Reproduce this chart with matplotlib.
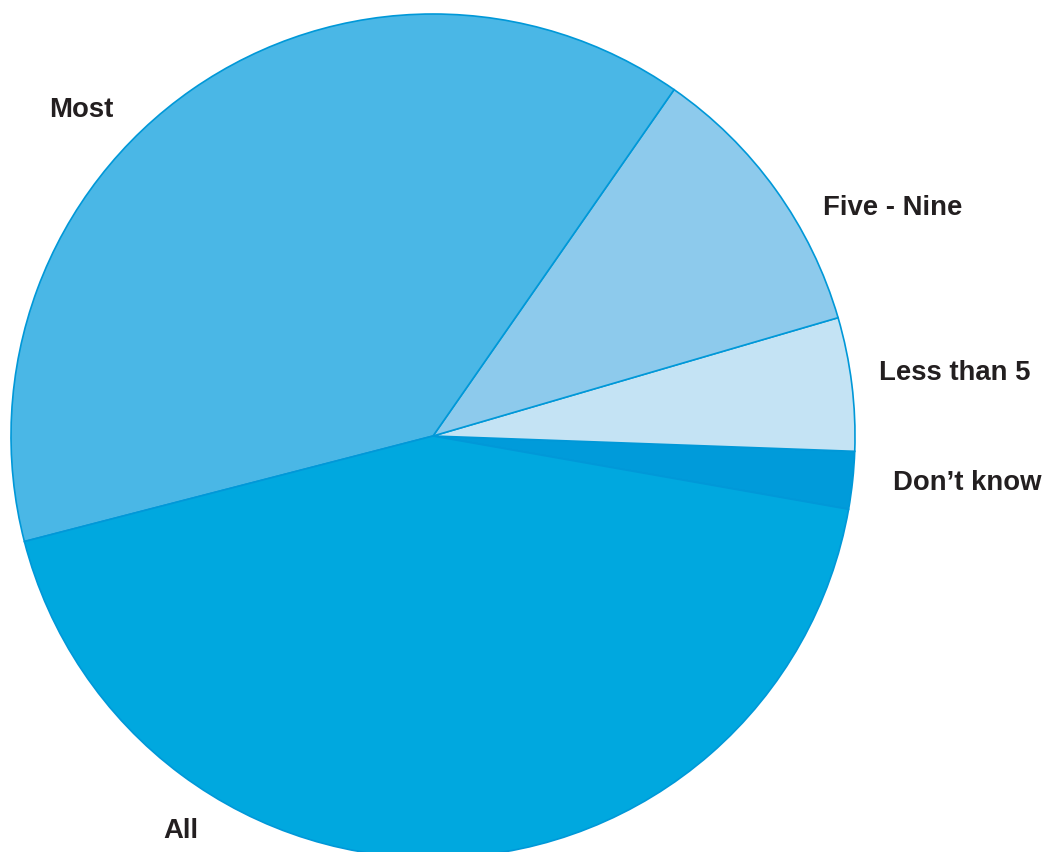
import matplotlib
matplotlib.use("Agg")
import matplotlib.pyplot as plt

categories = ["Don\u2019t know", "Less than 5", "Five - Nine", "Most", "All"]
values = [2.2, 5.1, 10.8, 38.7, 43.2]
colors = ["#009BDA", "#C4E3F4", "#8DCAEC", "#4AB7E6", "#00A8DF"]

W, H = 1045, 853
fig = plt.figure(figsize=(W / 100, H / 100), dpi=100)
ax = fig.add_axes([0, 0, 1, 1])

cx, cy, r = 433, H - 437, 422
ax.pie(values, colors=colors, startangle=-10, counterclock=True,
       center=(cx, cy), radius=r, frame=True,
       wedgeprops=dict(edgecolor="#0098D8", linewidth=1.2))
ax.set_xlim(0, W)
ax.set_ylim(0, H)
ax.set_aspect("equal")
ax.axis("off")

label_pos = {
    "Most": (49, 110),
    "Five - Nine": (823, 208),
    "Less than 5": (879, 373),
    "Don\u2019t know": (893, 483),
    "All": (163, 831),
}
for name in categories:
    x, y = label_pos[name]
    ax.text(x, H - y, name, ha="left", va="center", fontsize=19.8,
            fontweight="bold", color="#231F20", family="Liberation Sans")

fig.savefig("out.png", dpi=100)
